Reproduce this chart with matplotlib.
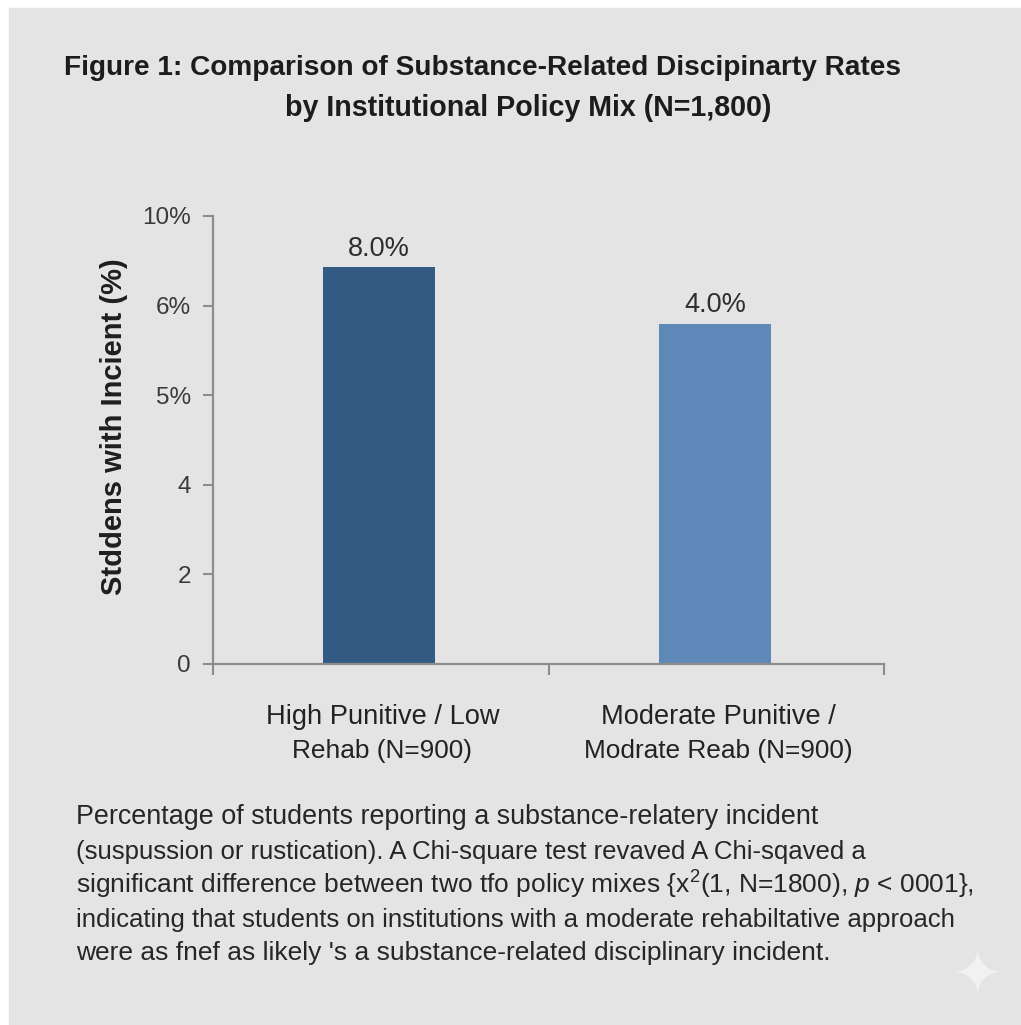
import matplotlib
matplotlib.use('Agg')
import matplotlib.pyplot as plt
from matplotlib.patches import Rectangle

plt.rcParams['font.family'] = ['Liberation Sans', 'DejaVu Sans']
plt.rcParams['mathtext.fontset'] = 'custom'
plt.rcParams['mathtext.rm'] = 'Liberation Sans'
plt.rcParams['mathtext.it'] = 'Liberation Sans:italic'

# ── Data ─────────────────────────────────────────────────────────
categories = ['High Punitive / Low\nRehab (N=900)',
              'Moderate Punitive /\nModrate Reab (N=900)']
bar_heights = [8.86, 7.59]
bar_labels = ['8.0%', '4.0%']
ytick_values = [0, 2, 4, 6, 8, 10]
ytick_labels = ['0', '2', '4', '5%', '6%', '10%']
title_lines = ['Figure 1: Comparison of Substance-Related Discipinarty Rates',
               'by Institutional Policy Mix (N=1,800)']
ylabel = 'Stddens with Incient (%)'
caption_lines = [
    'Percentage of students reporting a substance-relatery incident',
    '(suspussion or rustication). A Chi-square test revaved A Chi-sqaved a',
    'significant difference between two tfo policy mixes '
    '{x$^{2}$(1, N=1800), $p$ < 0001},',
    'indicating that students on institutions with a moderate rehabiltative approach',
    "were as fnef as likely 's a substance-related disciplinary incident.",
]

# ── Style ────────────────────────────────────────────────────────
W, H = 1021, 1025
BG = '#E4E4E4'
BAR_COLORS = ['#335A82', '#5E88B7']
AXIS = '#8C8C8C'
TEXT = '#2E2E2E'
CAPTION_BASELINES = [824, 859, 894, 927, 960]
CAPTION_SIZES = [19.4, 18.5, 19.0, 18.5, 19.0]


def fx(px):
    return px / W


def fy(py):
    return 1 - py / H


fig = plt.figure(figsize=(W / 100, H / 100), dpi=100, facecolor='white')
fig.add_artist(Rectangle((fx(9), 0), 1 - fx(9), fy(8),
                         transform=fig.transFigure, color=BG, zorder=-1))

ax = fig.add_axes([fx(213), fy(664), fx(884 - 213), (664 - 216) / H])
ax.patch.set_visible(False)

xpos = [0.495, 1.497]
ax.bar(xpos, bar_heights, width=0.334, color=BAR_COLORS, zorder=2)
for x, h, lab in zip(xpos, bar_heights, bar_labels):
    ax.annotate(lab, (x, h), xytext=(0, 4), textcoords='offset points',
                ha='center', va='bottom', fontsize=19.5, color=TEXT)

ax.set_xlim(0, 2)
ax.set_ylim(0, 10)
ax.set_yticks(ytick_values)
ax.set_yticklabels(ytick_labels, fontsize=17.5, color='#3A3A3A')
ax.set_xticks([0, 1, 2])
ax.set_xticklabels([])
ax.tick_params(axis='y', length=7, width=1.5, color=AXIS, pad=9)
ax.tick_params(axis='x', length=8, width=1.5, color=AXIS)
for name in ['top', 'right']:
    ax.spines[name].set_visible(False)
for name in ['left', 'bottom']:
    ax.spines[name].set_color(AXIS)
    ax.spines[name].set_linewidth(1.6)

for x, lab in zip(xpos, categories):
    first, second = lab.split('\n')
    ax.annotate(first, (x, 0), xytext=(2.5, -29), textcoords='offset points',
                ha='center', va='top', fontsize=19.6, color='#222222')
    ax.annotate(second, (x, 0), xytext=(2, -54), textcoords='offset points',
                ha='center', va='top', fontsize=18.9, color='#222222')

fig.text(fx(114), fy(427), ylabel, rotation=90, ha='center', va='center',
         fontsize=21, fontweight='bold', color='#1E1E1E')

fig.text(fx(482.5), fy(68), title_lines[0], ha='center', va='center',
         fontsize=20.15, fontweight='bold', color='#1C1C1C')
fig.text(fx(528), fy(108), title_lines[1], ha='center', va='center',
         fontsize=20.6, fontweight='bold', color='#1C1C1C')

for line, base, size in zip(caption_lines, CAPTION_BASELINES, CAPTION_SIZES):
    fig.text(fx(76), fy(base), line, ha='left', va='baseline',
             fontsize=size, color='#262626')

# sparkle in the bottom corner
fig.text(fx(977), fy(977), '\u2726', ha='center', va='center', fontsize=44,
         color='#F1F1F1', family='DejaVu Sans')

fig.savefig('out.png', dpi=100, facecolor=fig.get_facecolor())
plt.close(fig)
